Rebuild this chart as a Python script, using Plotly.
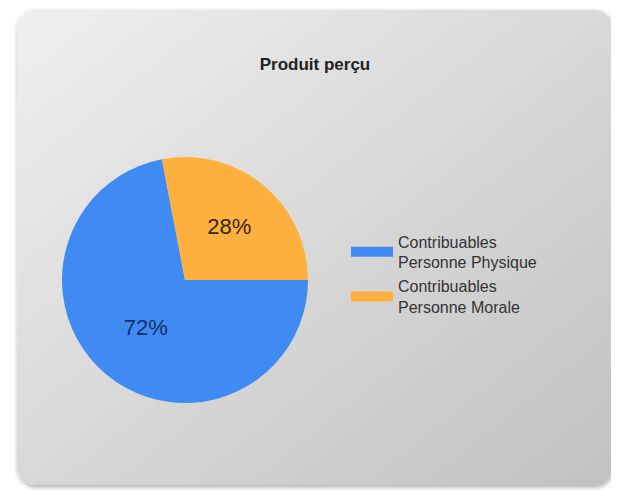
import base64
import plotly.graph_objects as go

# data
labels = ["Contribuables<br>Personne Physique", "Contribuables<br>Personne Morale"]
values = [72, 28]
colors = ["#3f8bf3", "#fdb03e"]
label_colors = ["#13306c", "#3a2512"]

title = "Produit perçu"

# the page puts the plot 8px in from the top left, so the figure is a bit
# smaller than the window and everything below is in figure pixels
W, H = 611, 482

# rounded grey panel with a soft shadow, drawn as an svg behind the plot
panel_svg = """<svg xmlns="http://www.w3.org/2000/svg" width="611" height="482">
<defs>
<linearGradient id="g" x1="0" y1="0" x2="1" y2="1">
<stop offset="0" stop-color="#efefef"/><stop offset="1" stop-color="#c1c1c1"/>
</linearGradient>
<filter id="s" x="-5%" y="-5%" width="110%" height="112%">
<feDropShadow dx="1" dy="2" stdDeviation="2.5" flood-color="#000" flood-opacity="0.35"/>
</filter>
</defs>
<rect x="9" y="2" width="595" height="475" rx="18" ry="18" fill="url(#g)" filter="url(#s)"/>
</svg>"""
panel_src = "data:image/svg+xml;base64," + base64.b64encode(panel_svg.encode()).decode()

fig = go.Figure()

fig.add_trace(go.Pie(labels=labels,
                     values=values,
                     sort=False,
                     direction='counterclockwise',
                     rotation=90,
                     marker=dict(colors=colors, line=dict(width=0)),
                     textinfo='percent',
                     textposition='inside',
                     insidetextorientation='horizontal',
                     textfont=dict(family="Arial, Liberation Sans", size=22, color=label_colors),
                     hoverinfo='label+percent',
                     showlegend=False,
                     domain=dict(x=[54/W, 300/W], y=[87/H, 333/H]),
                     ))

# wide legend swatches like the original: empty line traces, one per slice
for lab, col in zip(labels, colors):
    fig.add_trace(go.Scatter(x=[None], y=[None], mode='lines', name=lab,
                             line=dict(color=col, width=15),
                             hoverinfo='skip'))

fig.update_layout(
    width=W,
    height=H,
    margin=dict(l=0, r=0, t=0, b=0),
    paper_bgcolor='white',
    plot_bgcolor='rgba(0,0,0,0)',
    xaxis=dict(visible=False),
    yaxis=dict(visible=False),
    title=dict(text=title, x=307/W, xanchor='center', y=1-56/H, yanchor='middle',
               font=dict(family="Arial, Liberation Sans", size=17, color="#222222", weight='bold')),
    legend=dict(x=338/W, xanchor='left', y=0.447, yanchor='middle',
                font=dict(family="Arial, Liberation Sans", size=16, color="#333333"),
                bgcolor='rgba(0,0,0,0)', tracegroupgap=0, itemwidth=42),
    images=[dict(source=panel_src, xref='paper', yref='paper', x=0, y=1,
                 sizex=1, sizey=1, xanchor='left', yanchor='top',
                 sizing='stretch', layer='below')],
)

fig.write_html("out.html")
